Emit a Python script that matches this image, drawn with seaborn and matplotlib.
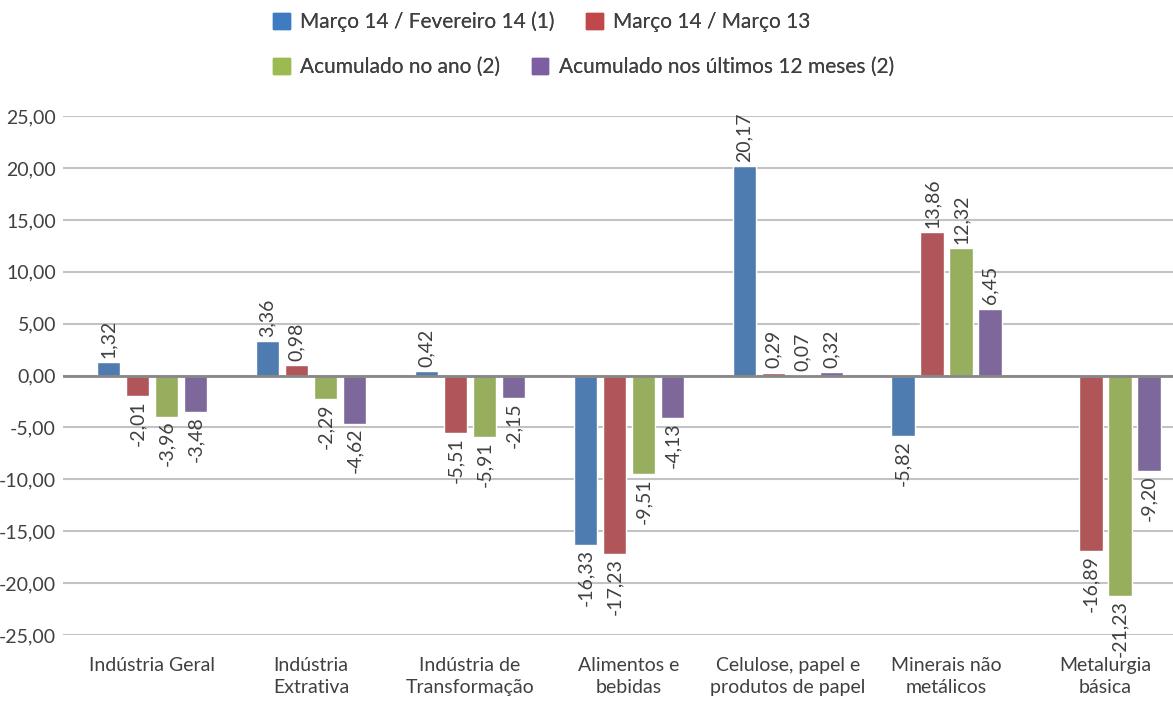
import numpy as np
import pandas as pd
import seaborn as sns
import matplotlib.pyplot as plt
from matplotlib.patches import Patch

categories = ["Indústria Geral", "Indústria\nExtrativa", "Indústria de\nTransformação",
              "Alimentos e\nbebidas", "Celulose, papel e\nprodutos de papel",
              "Minerais não\nmetálicos", "Metalurgia\nbásica"]
series = ["Março 14 / Fevereiro 14 (1)", "Março 14 / Março 13",
          "Acumulado no ano (2)", "Acumulado nos últimos 12 meses (2)"]
mar_fev = [1.32, 3.36, 0.42, -16.33, 20.17, -5.82, np.nan]
mar_mar = [-2.01, 0.98, -5.51, -17.23, 0.29, 13.86, -16.89]
acum_ano = [-3.96, -2.29, -5.91, -9.51, 0.07, 12.32, -21.23]
acum_12m = [-3.48, -4.62, -2.15, -4.13, 0.32, 6.45, -9.20]
colors = ["#3F7BC0", "#C0474A", "#9BBB50", "#7D5EA3"]
text_color = "#404040"

df = pd.DataFrame({
    "Setor": categories * 4,
    "Série": sum([[s] * len(categories) for s in series], []),
    "Valor": mar_fev + mar_mar + acum_ano + acum_12m,
})

sns.set_style("white")
plt.rcParams["font.family"] = ["Lato", "DejaVu Sans"]

fig = plt.figure(figsize=(11.73, 7.08), dpi=100)
ax = fig.add_axes([0.0537, 0.103, 0.9463, 0.733])

sns.barplot(data=df, x="Setor", y="Valor", hue="Série", hue_order=series,
            order=categories, palette=colors, width=0.73, gap=0.2,
            errorbar=None, ax=ax, legend=False, zorder=3)

for c in ax.containers:
    labels = ["" if np.isnan(v) else f"{v:.2f}".replace(".", ",") for v in c.datavalues]
    ax.bar_label(c, labels=labels, rotation=90, padding=3, fontsize=14, color=text_color)

ax.set_ylim(-25, 25)
ax.set_yticks(np.arange(-25, 26, 5))
ax.set_yticklabels([f"{v:.2f}".replace(".", ",") for v in np.arange(-25, 26, 5)])
ax.yaxis.grid(True, color="#C3C3C3", linewidth=1.5, zorder=0)
ax.axhline(0, color="#878787", linewidth=2, zorder=4)
for s in ax.spines.values():
    s.set_visible(False)
ax.tick_params(axis="y", length=0, labelsize=14, labelcolor=text_color, pad=5)
ax.tick_params(axis="x", length=0, labelsize=14, labelcolor=text_color, pad=16)
for t in ax.get_xticklabels():
    t.set_linespacing(1.35)
ax.set_xlabel("")
ax.set_ylabel("")
ax.set_xlim(-0.56, 6.425)

h1 = [Patch(color=colors[0], label=series[0]), Patch(color=colors[1], label=series[1])]
h2 = [Patch(color=colors[2], label=series[2]), Patch(color=colors[3], label=series[3])]
for h, y in [(h1, 0.969), (h2, 0.905)]:
    leg = fig.legend(handles=h, loc="center left", bbox_to_anchor=(0.217, y), ncol=2,
                     frameon=False, fontsize=15, handlelength=0.8, handleheight=0.8,
                     handletextpad=0.5, columnspacing=1.5, labelcolor=text_color)
    fig.add_artist(leg)

fig.savefig("out.png", dpi=100)
